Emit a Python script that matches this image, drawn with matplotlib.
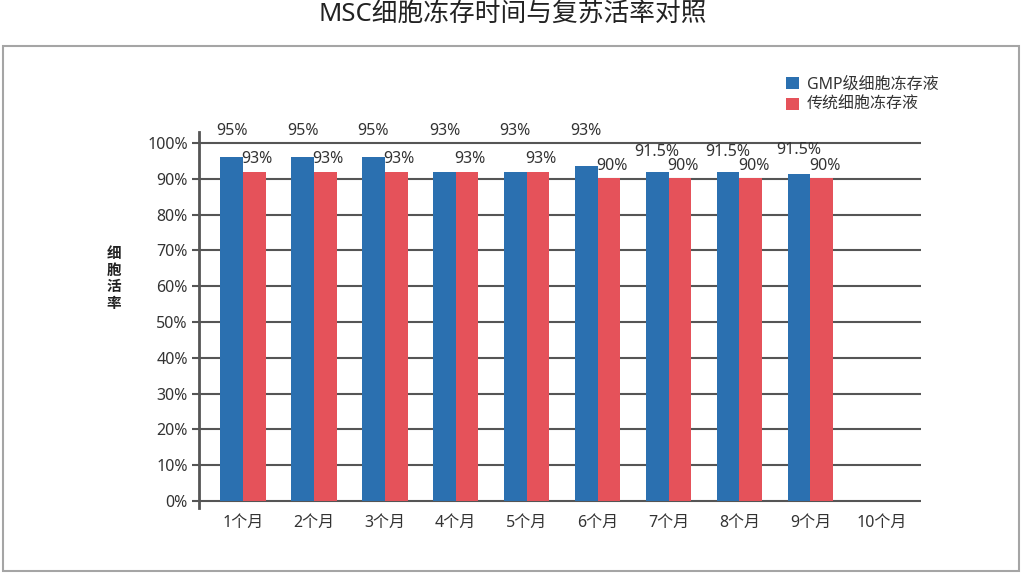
import numpy as np
import matplotlib
matplotlib.use('Agg')
import matplotlib.pyplot as plt
from matplotlib.patches import Rectangle

plt.rcParams['font.family'] = ['Noto Sans', 'Noto Sans CJK SC', 'DejaVu Sans']

# data
MONTHS = ['1个月', '2个月', '3个月', '4个月', '5个月',
          '6个月', '7个月', '8个月', '9个月', '10个月']
GMP_VALUES = [96, 96, 96, 92, 92, 93.5, 92, 92, 91.5, np.nan]
TRAD_VALUES = [92, 92, 92, 92, 91.8, 90.3, 90.3, 90.3, 90.3, np.nan]
GMP_LABELS = ['95%', '95%', '95%', '93%', '93%', '93%', '91.5%', '91.5%', '91.5%']
TRAD_LABELS = ['93%', '93%', '93%', '93%', '93%', '90%', '90%', '90%', '90%']
SERIES_NAMES = ['GMP级细胞冻存液', '传统细胞冻存液']

# label placement (data units on the y axis)
GMP_LABEL_Y = [103.5, 103.5, 103.5, 103.5, 103.5, 103.5, 97.6, 97.6, 98.1]
TRAD_LABEL_Y = [95.6, 95.6, 95.6, 95.6, 95.6, 93.5, 93.5, 93.5, 93.5]

BLUE = '#2B70B0'
RED = '#E5525A'
GRID = '#555555'
TEXT = '#333333'

fig = plt.figure(figsize=(10.26, 5.76), dpi=100)

# outer frame
fig.patches.append(Rectangle((3 / 1026, 1 - 571 / 576), 1016 / 1026, 525 / 576,
                             transform=fig.transFigure, fill=False,
                             edgecolor='#A5A5A5', linewidth=1.5))

fig.text(0.5, 1 - 15 / 576, 'MSC细胞冻存时间与复苏活率对照', ha='center',
         va='center', fontsize=18.5, color='#222222')

ax = fig.add_axes([199 / 1026, 68 / 576, 722 / 1026, 376.3 / 576])

x = np.arange(len(MONTHS))
w = 0.32
ax.bar(x - w / 2, GMP_VALUES, w, color=BLUE, label=SERIES_NAMES[0], zorder=3)
ax.bar(x + w / 2, TRAD_VALUES, w, color=RED, label=SERIES_NAMES[1], zorder=3)

for i, lab in enumerate(GMP_LABELS):
    ax.text(x[i] - w / 2, GMP_LABEL_Y[i], lab, ha='center', va='center',
            fontsize=11.5, color=TEXT)
for i, lab in enumerate(TRAD_LABELS):
    ax.text(x[i] + w / 2 + 0.04, TRAD_LABEL_Y[i], lab, ha='center', va='center',
            fontsize=11.5, color=TEXT)

ax.set_xlim(-0.62, 9.56)
ax.set_ylim(-2, 103.2)
yt = np.arange(0, 101, 10)
ax.set_yticks(yt)
ax.set_yticklabels([f'{v}%' for v in yt])
for v in yt:
    ax.axhline(v, color=GRID, linewidth=1.5, zorder=2)

ax.set_xticks(x)
ax.set_xticklabels(MONTHS)
ax.tick_params(axis='x', length=0, pad=5, labelsize=11.5, labelcolor=TEXT)
ax.tick_params(axis='y', length=5, width=1.5, color=GRID, pad=3,
               labelsize=11.5, labelcolor=TEXT)

for s in ['top', 'right', 'bottom']:
    ax.spines[s].set_visible(False)
ax.spines['left'].set_color(GRID)
ax.spines['left'].set_linewidth(2)

fig.text(114 / 1026, 1 - 278 / 576, '细\n胞\n活\n率', ha='center', va='center',
         fontsize=10.5, fontweight='bold', color='#222222', linespacing=1.05,
         family=['Noto Sans CJK SC'])

fig.legend(loc='upper left', bbox_to_anchor=(772 / 1026, 1 - 62 / 576),
           frameon=False, fontsize=11.5, handlelength=0.8, handleheight=0.8,
           handletextpad=0.5, labelspacing=0.3, labelcolor=TEXT)

fig.savefig('out.png', dpi=100)
